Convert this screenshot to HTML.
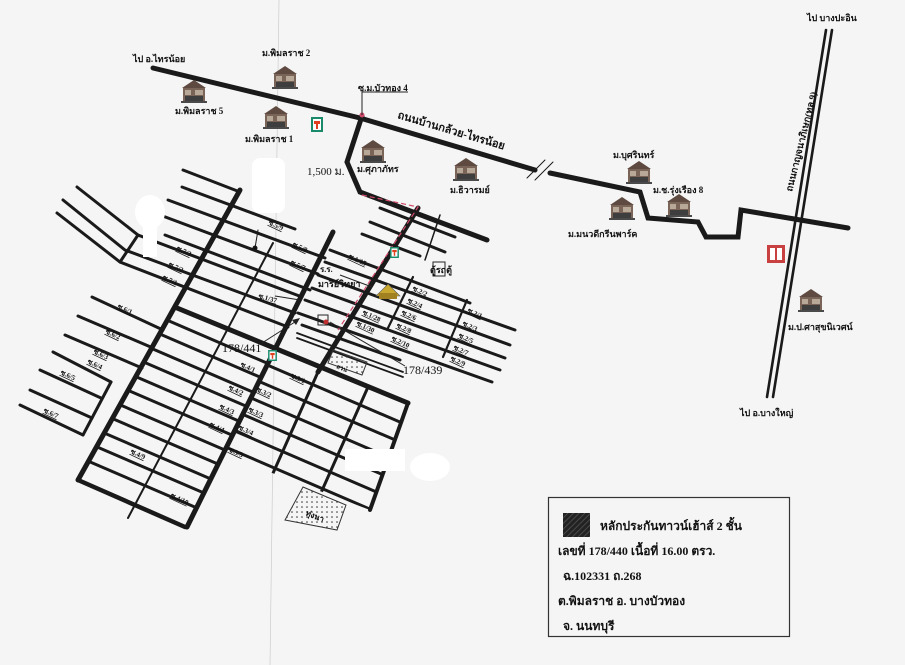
<!DOCTYPE html>
<html><head><meta charset="utf-8"><style>
html,body{margin:0;padding:0;background:#f5f5f5;}
svg{display:block;}
text{font-family:"Liberation Serif","Noto Serif CJK SC",serif;font-weight:bold;fill:#111;}
.s{font-size:7px;text-decoration:underline;}
.l{font-size:9px;}
</style></head><body>
<svg width="905" height="665" viewBox="0 0 905 665" xmlns="http://www.w3.org/2000/svg">
<defs>
<symbol id="h" viewBox="0 0 28 24">
<polygon points="2,9 14,1 26,9" fill="#5e4a40"/>
<rect x="3" y="9" width="22" height="13" fill="#7a6458"/>
<rect x="5" y="11" width="6" height="5" fill="#b8a898"/>
<rect x="15" y="11" width="8" height="5" fill="#b8a898"/>
<rect x="5" y="17" width="18" height="5" fill="#3e3e3e"/>
<rect x="1" y="22" width="26" height="2" fill="#4a4a4a"/>
</symbol>
<symbol id="e" viewBox="0 0 12 15">
<rect x="0" y="0" width="12" height="15" fill="#1b8a6b"/>
<rect x="2" y="2" width="8" height="11" fill="#fff"/>
<rect x="3" y="4" width="6" height="3" fill="#e04020"/>
<rect x="5" y="7" width="2" height="5" fill="#e04020"/>
</symbol>
<pattern id="dots" width="5" height="5" patternUnits="userSpaceOnUse"><circle cx="2" cy="2" r="0.8" fill="#333"/></pattern>
<pattern id="hat" width="4" height="4" patternUnits="userSpaceOnUse" patternTransform="rotate(45)"><rect width="4" height="4" fill="#222"/><line x1="0" y1="0" x2="0" y2="4" stroke="#555" stroke-width="1.5"/></pattern>
<clipPath id="r1"><polygon points="177,308 275,348 185,527 78,480"/></clipPath>
<clipPath id="r2"><polygon points="275,348 408,403 370,510 222,454"/></clipPath>
</defs>

<line x1="279" y1="0" x2="270" y2="665" stroke="#ccc" stroke-width="0.7"/>

<g stroke="#1a1a1a" stroke-linecap="round" fill="none">
<polyline stroke-width="5" points="153,68 360,118 535,170"/>
<polyline stroke-width="5" points="550,173 640,192 648,218 698,222 706,237 738,237 741,210 848,228"/>
<line x1="527" y1="178" x2="545" y2="160" stroke-width="1"/>
<line x1="535" y1="180" x2="553" y2="162" stroke-width="1"/>
<line x1="826" y1="30" x2="767" y2="397" stroke-width="2.6"/>
<line x1="832" y1="30" x2="773" y2="397" stroke-width="2.6"/>
<polyline stroke-width="5" points="362,116 347,162 360,192 487,240"/>
<line x1="240" y1="190" x2="78" y2="480" stroke-width="5"/>
<line x1="333" y1="232" x2="187" y2="527" stroke-width="5"/>
<line x1="418" y1="208" x2="318" y2="372" stroke-width="5"/>
<line x1="177" y1="308" x2="408" y2="403" stroke-width="5"/>
<line x1="408" y1="403" x2="370" y2="510" stroke-width="4"/>
<line x1="78" y1="480" x2="185" y2="527" stroke-width="4.5"/>

<g stroke-width="3">
<line x1="183" y1="170" x2="240" y2="192"/>
<line x1="182" y1="187" x2="295" y2="229"/>
<line x1="168" y1="200" x2="325" y2="258"/>
<line x1="160" y1="215" x2="318" y2="274"/>
<line x1="165" y1="235" x2="310" y2="290"/>
<polyline points="77,187 138,235 302,297"/>
<polyline points="63,200 125,250 295,313"/>
<polyline points="57,213 120,262 288,327"/>
<line x1="138" y1="235" x2="120" y2="262"/>
<line x1="92" y1="297" x2="163" y2="330"/>
<line x1="78" y1="316" x2="153" y2="348"/>
<line x1="65" y1="335" x2="142" y2="368"/>
<line x1="53" y1="352" x2="111" y2="382"/>
<line x1="40" y1="370" x2="101" y2="398"/>
<line x1="30" y1="390" x2="92" y2="418"/>
<line x1="20" y1="405" x2="83" y2="435"/>
<line x1="111" y1="382" x2="83" y2="435"/>
<g clip-path="url(#r1)">
<line x1="60" y1="274" x2="420" y2="429"/><line x1="60" y1="291" x2="420" y2="446"/>
<line x1="60" y1="309" x2="420" y2="464"/><line x1="60" y1="326" x2="420" y2="481"/>
<line x1="60" y1="344" x2="420" y2="499"/><line x1="60" y1="361" x2="420" y2="516"/>
<line x1="60" y1="379" x2="420" y2="534"/><line x1="60" y1="396" x2="420" y2="551"/>
<line x1="60" y1="414" x2="420" y2="569"/><line x1="60" y1="431" x2="420" y2="586"/>
<line x1="60" y1="449" x2="420" y2="604"/>
</g>
<g clip-path="url(#r2)">
<line x1="200" y1="336" x2="430" y2="435"/><line x1="200" y1="356" x2="430" y2="455"/>
<line x1="200" y1="376" x2="430" y2="475"/><line x1="200" y1="396" x2="430" y2="495"/>
<line x1="200" y1="416" x2="430" y2="515"/><line x1="200" y1="436" x2="430" y2="535"/>
<line x1="318" y1="372" x2="270" y2="480"/>
<line x1="368" y1="387" x2="320" y2="495"/>
</g>
<line x1="380" y1="208" x2="455" y2="237"/>
<line x1="370" y1="222" x2="445" y2="252"/>
<line x1="362" y1="234" x2="420" y2="256"/>
<line x1="330" y1="250" x2="470" y2="303"/>
<line x1="325" y1="262" x2="515" y2="330"/>
<line x1="318" y1="275" x2="510" y2="345"/>
<line x1="312" y1="288" x2="505" y2="358"/>
<line x1="305" y1="300" x2="500" y2="370"/>
<line x1="298" y1="313" x2="492" y2="382"/>
<line x1="302" y1="325" x2="400" y2="360"/>
<line x1="413" y1="277" x2="387" y2="330" stroke-width="2.2"/>
<line x1="467" y1="300" x2="443" y2="357" stroke-width="2.2"/>
<line x1="440" y1="215" x2="425" y2="260" stroke-width="1.5"/>
</g>
<line x1="297" y1="333" x2="403" y2="372" stroke-width="1.8"/>
<line x1="297" y1="338" x2="403" y2="377" stroke-width="1.8"/>
<line x1="273" y1="243" x2="128" y2="518" stroke-width="2"/>
<line x1="258" y1="230" x2="255" y2="248" stroke-width="1"/>
<circle cx="255" cy="248" r="2" fill="#111"/>
</g>

<polyline points="362,195 418,207 338,330" fill="none" stroke="#d04a6a" stroke-width="1.2" stroke-dasharray="5,3"/>
<circle cx="362" cy="115" r="2.5" fill="#d04a6a"/>

<g stroke="#222" stroke-width="1" fill="none">
<polyline points="408,92 362,92 362,115"/>
<line x1="262" y1="343" x2="298" y2="320"/>
<line x1="330" y1="322" x2="405" y2="366"/>
<line x1="340" y1="275" x2="372" y2="287"/>
<line x1="275" y1="296" x2="300" y2="300"/>
</g>
<polygon points="300,318 292,320 296,325" fill="#222"/>
<rect x="318" y="315" width="10" height="10" fill="none" stroke="#222"/>
<circle cx="326" cy="322" r="2.5" fill="#c03030"/>

<polygon points="333,350 367,362 362,375 328,363" fill="url(#dots)" stroke="#333" stroke-width="1"/>
<polygon points="303,487 346,505 337,530 285,520" fill="url(#dots)" stroke="#333" stroke-width="1"/>
<rect x="433" y="262" width="12" height="14" fill="none" stroke="#222" stroke-width="1"/>

<g fill="#ffffff">
<ellipse cx="150" cy="212" rx="15" ry="17"/><rect x="143" y="225" width="14" height="32"/>
<rect x="252" y="158" width="33" height="55" rx="8"/>
<rect x="345" y="449" width="60" height="22"/><ellipse cx="430" cy="467" rx="20" ry="14"/>
</g>

<use href="#h" x="180" y="79" width="28" height="24"/>
<use href="#h" x="271" y="65" width="28" height="24"/>
<use href="#h" x="262" y="105" width="28" height="24"/>
<use href="#h" x="359" y="139" width="28" height="24"/>
<use href="#h" x="452" y="157" width="28" height="24"/>
<use href="#h" x="625" y="160" width="28" height="24"/>
<use href="#h" x="665" y="193" width="28" height="24"/>
<use href="#h" x="608" y="196" width="28" height="24"/>
<use href="#h" x="797" y="288" width="28" height="24"/>
<polygon points="376,296 388,284 400,296" fill="#c8a830" stroke="#555" stroke-width="0.6"/>
<rect x="379" y="293" width="18" height="6" fill="#a08020"/>
<use href="#e" x="311" y="117" width="12" height="15"/>
<use href="#e" x="390" y="247" width="9" height="11"/>
<use href="#e" x="268" y="350" width="9" height="11"/>
<rect x="767" y="245" width="18" height="18" fill="#c84040"/>
<rect x="770" y="248" width="5" height="12" fill="#fff"/><rect x="777" y="248" width="5" height="12" fill="#fff"/>

<text class="l" x="133" y="62">ไป อ.ไทรน้อย</text>
<text class="l" x="262" y="56">ม.พิมลราช 2</text>
<text class="l" x="175" y="114">ม.พิมลราช 5</text>
<text class="l" x="245" y="142">ม.พิมลราช 1</text>
<text class="l" x="358" y="91">ซ.ม.บัวทอง 4</text>
<text x="397" y="118" font-size="11" transform="rotate(16.5 397 118)">ถนนบ้านกล้วย-ไทรน้อย</text>
<text x="307" y="175" font-size="11" style="font-weight:normal">1,500 ม.</text>
<text class="l" x="357" y="172">ม.ศุภาภัทร</text>
<text class="l" x="450" y="193">ม.ธิวารมย์</text>
<text class="l" x="613" y="158">ม.บุศรินทร์</text>
<text class="l" x="653" y="193">ม.ช.รุ่งเรือง 8</text>
<text class="l" x="568" y="237">ม.มนวดีกรีนพาร์ค</text>
<text class="l" x="807" y="21">ไป บางปะอิน</text>
<text class="l" x="740" y="416">ไป อ.บางใหญ่</text>
<text class="l" x="788" y="330">ม.ป.ศาสุขนิเวศน์</text>
<text x="792" y="192" font-size="9.5" transform="rotate(-76 792 192)">ถนนกาญจนาภิเษก(ทล.9)</text>
<text class="l" x="320" y="272" style="font-size:8px">ร.ร.</text>
<text class="l" x="318" y="287">มารีย์วิทยา</text>
<text class="l" x="430" y="273">ตู้รถตู้</text>
<text x="222" y="352" font-size="12" style="font-weight:normal">178/441</text>
<text x="403" y="374" font-size="12" style="font-weight:normal">178/439</text>
<text x="336" y="368" font-size="6" transform="rotate(22 336 368)">สวน</text>
<text x="305" y="515" font-size="8" transform="rotate(22 305 515)">ทุ่งนา</text>

<g>
<text class="s" x="268" y="224" transform="rotate(25 268 224)">ซ.5/9</text>
<text class="s" x="292" y="246" transform="rotate(25 292 246)">ซ.5/8</text>
<text class="s" x="290" y="264" transform="rotate(25 290 264)">ซ.5/7</text>
<text class="s" x="176" y="250" transform="rotate(25 176 250)">ซ.7/3</text>
<text class="s" x="168" y="266" transform="rotate(25 168 266)">ซ.7/2</text>
<text class="s" x="162" y="279" transform="rotate(25 162 279)">ซ.7/1</text>
<text class="s" x="258" y="298" transform="rotate(15 258 298)">ซ.1/37</text>
<text class="s" x="117" y="308" transform="rotate(25 117 308)">ซ.6/1</text>
<text class="s" x="105" y="333" transform="rotate(25 105 333)">ซ.6/2</text>
<text class="s" x="93" y="353" transform="rotate(25 93 353)">ซ.6/3</text>
<text class="s" x="87" y="363" transform="rotate(25 87 363)">ซ.6/4</text>
<text class="s" x="60" y="374" transform="rotate(25 60 374)">ซ.6/5</text>
<text class="s" x="43" y="412" transform="rotate(25 43 412)">ซ.6/7</text>
<text class="s" x="240" y="366" transform="rotate(25 240 366)">ซ.4/1</text>
<text class="s" x="228" y="389" transform="rotate(25 228 389)">ซ.4/2</text>
<text class="s" x="219" y="408" transform="rotate(25 219 408)">ซ.4/3</text>
<text class="s" x="209" y="426" transform="rotate(25 209 426)">ซ.4/4</text>
<text class="s" x="130" y="453" transform="rotate(25 130 453)">ซ.4/9</text>
<text class="s" x="170" y="497" transform="rotate(25 170 497)">ซ.4/10</text>
<text class="s" x="290" y="377" transform="rotate(25 290 377)">ซ.3/1</text>
<text class="s" x="256" y="391" transform="rotate(25 256 391)">ซ.3/2</text>
<text class="s" x="248" y="411" transform="rotate(25 248 411)">ซ.3/3</text>
<text class="s" x="238" y="429" transform="rotate(25 238 429)">ซ.3/4</text>
<text class="s" x="228" y="451" transform="rotate(25 228 451)">ซ.3/5</text>
<text class="s" x="348" y="258" transform="rotate(25 348 258)">ซ.1/15</text>
<text class="s" x="362" y="314" transform="rotate(25 362 314)">ซ.1/28</text>
<text class="s" x="356" y="325" transform="rotate(25 356 325)">ซ.1/30</text>
<text class="s" x="412" y="290" transform="rotate(25 412 290)">ซ.2/2</text>
<text class="s" x="407" y="302" transform="rotate(25 407 302)">ซ.2/4</text>
<text class="s" x="401" y="314" transform="rotate(25 401 314)">ซ.2/6</text>
<text class="s" x="396" y="327" transform="rotate(25 396 327)">ซ.2/8</text>
<text class="s" x="391" y="340" transform="rotate(25 391 340)">ซ.2/10</text>
<text class="s" x="467" y="312" transform="rotate(25 467 312)">ซ.2/1</text>
<text class="s" x="462" y="325" transform="rotate(25 462 325)">ซ.2/3</text>
<text class="s" x="458" y="337" transform="rotate(25 458 337)">ซ.2/5</text>
<text class="s" x="453" y="349" transform="rotate(25 453 349)">ซ.2/7</text>
<text class="s" x="450" y="360" transform="rotate(25 450 360)">ซ.2/9</text>
</g>

<rect x="548.5" y="497.5" width="241" height="139" fill="none" stroke="#333" stroke-width="1.2"/>
<rect x="563" y="513" width="27" height="24" fill="url(#hat)"/>
<text x="600" y="530" font-size="12">หลักประกันทาวน์เฮ้าส์ 2 ชั้น</text>
<text x="558" y="555" font-size="12">เลขที่ 178/440 เนื้อที่ 16.00 ตรว.</text>
<text x="563" y="580" font-size="12">ฉ.102331 ถ.268</text>
<text x="558" y="605" font-size="12">ต.พิมลราช  อ. บางบัวทอง</text>
<text x="563" y="630" font-size="12">จ. นนทบุรี</text>
</svg>
</body></html>
